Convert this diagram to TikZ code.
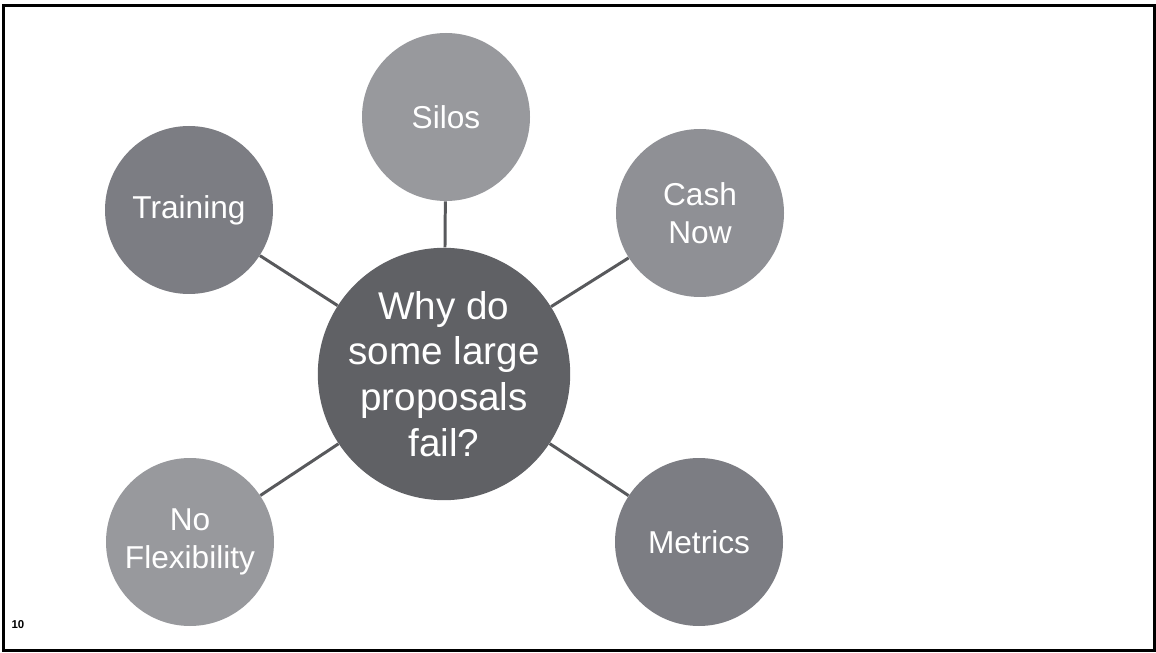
\documentclass[tikz,border=0pt]{standalone}
\usepackage{fontspec}
\setmainfont{Liberation Sans}
\usepackage{tikz}
\usetikzlibrary{positioning}

\definecolor{hubgray}{HTML}{606165}
\definecolor{lightgray}{HTML}{98999D}
\definecolor{midgray}{HTML}{8F9095}
\definecolor{darkgray}{HTML}{7C7D83}
\definecolor{linkgray}{HTML}{58595C}

\begin{document}
\begin{tikzpicture}[
  hub/.style={circle, fill=hubgray, text=white, align=center, minimum size=50.4mm, inner sep=0pt, font=\fontsize{22}{26}\selectfont},
  spoke/.style={circle, text=white, align=center, minimum size=33.6mm, inner sep=0pt, font=\fontsize{18}{21.5}\selectfont},
  link/.style={draw=linkgray, line width=1.7pt}
]
\useasboundingbox (0,0) rectangle (23.12,13.04);

% Slide frame and page number
\draw[line width=1.7pt] (0.07,0.03) rectangle (23.08,12.93);
\node[font=\fontsize{6.5}{7}\selectfont\bfseries] (pageno) at (0.36,0.54) {10};

% Centre question
\node[hub] (hub) at (8.88,5.56) {Why do\\some large\\proposals\\fail?};

% Surrounding reasons
\node[spoke, fill=lightgray] (silos) at (8.92,10.70) {Silos};
\node[spoke, fill=darkgray] (training) at (3.78,8.84) {Training};
\node[spoke, fill=midgray] (cash) at (14.00,8.78) {Cash\\Now};
\node[spoke, fill=lightgray] (noflex) at (3.80,2.20) {No\\Flexibility};
\node[spoke, fill=darkgray] (metrics) at (13.98,2.20) {Metrics};

% Links
\draw[link] (hub) -- (silos);
\draw[link] (hub) -- (training);
\draw[link] (hub) -- (cash);
\draw[link] (hub) -- (noflex);
\draw[link] (hub) -- (metrics);

\end{tikzpicture}
\end{document}
